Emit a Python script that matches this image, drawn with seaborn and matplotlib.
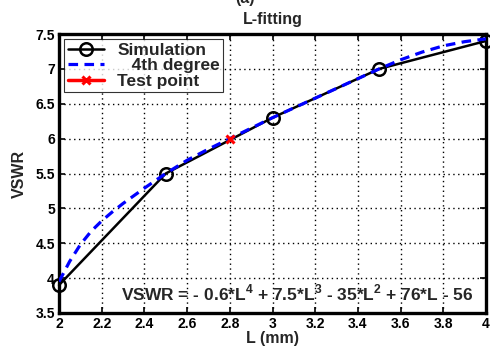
import matplotlib
matplotlib.use("Agg")
import matplotlib.pyplot as plt
import seaborn as sns
import numpy as np

# Data
sim_L = [2.0, 2.5, 3.0, 3.5, 4.0]
sim_vswr = [3.9, 5.5, 6.3, 7.0, 7.4]

fit_L = [2.0, 2.05, 2.1, 2.15, 2.2, 2.25, 2.3, 2.4, 2.5, 2.6, 2.7, 2.8, 2.9, 3.0,
         3.1, 3.2, 3.3, 3.4, 3.5, 3.6, 3.7, 3.8, 3.9, 4.0]
fit_vswr = [3.95, 4.24, 4.48, 4.67, 4.82, 4.95, 5.07, 5.29, 5.5, 5.69, 5.85, 6.0, 6.15, 6.3,
            6.44, 6.58, 6.72, 6.86, 7.0, 7.13, 7.24, 7.33, 7.39, 7.43]

test_L = [2.8]
test_vswr = [6.0]

x_ticks = [2, 2.2, 2.4, 2.6, 2.8, 3, 3.2, 3.4, 3.6, 3.8, 4]
x_ticklabels = ["2", "2.2", "2.4", "2.6", "2.8", "3", "3.2", "3.4", "3.6", "3.8", "4"]
y_ticks = [3.5, 4, 4.5, 5, 5.5, 6, 6.5, 7, 7.5]
y_ticklabels = ["3.5", "4", "4.5", "5", "5.5", "6", "6.5", "7", "7.5"]

sns.set_theme(style="white")
plt.rcParams['font.family'] = ['Liberation Sans', 'DejaVu Sans']
plt.rcParams['mathtext.fontset'] = 'custom'
plt.rcParams['mathtext.bf'] = 'Liberation Sans:bold'
plt.rcParams['mathtext.rm'] = 'Liberation Sans:bold'

fig = plt.figure(figsize=(4.9, 3.52), dpi=100)
ax = fig.add_axes([59/490, 1-313/352, (486-59)/490, (313-34)/352])

sns.lineplot(x=sim_L, y=sim_vswr, ax=ax, color='black', linewidth=1.8,
             marker='o', markersize=9, markerfacecolor='none',
             markeredgecolor='black', markeredgewidth=1.8,
             label='Simulation', zorder=3, clip_on=False)
sns.lineplot(x=fit_L, y=fit_vswr, ax=ax, color='blue', linewidth=2.3,
             linestyle=(0, (3, 2)), label='   4th degree', zorder=4)
sns.lineplot(x=test_L, y=test_vswr, ax=ax, color='red', linewidth=2.5,
             marker='x', markersize=6, markeredgewidth=2.2,
             markeredgecolor='red', markerfacecolor='red',
             label='Test point', zorder=5)

ax.set_xlim(2, 4)
ax.set_ylim(3.5, 7.5)
ax.set_xticks(x_ticks)
ax.set_xticklabels(x_ticklabels, fontweight='bold', fontsize=10)
ax.set_yticks(y_ticks)
ax.set_yticklabels(y_ticklabels, fontweight='bold', fontsize=10)
ax.tick_params(direction='in', length=4, width=1.2, top=True, right=True,
               bottom=True, left=True, pad=3, colors='black')
ax.grid(True, linestyle=(0, (1, 2.5)), color='black', linewidth=1.0)
for s in ax.spines.values():
    s.set_linewidth(2.4)
    s.set_color('black')

ax.set_xlabel('L (mm)', fontweight='bold', fontsize=11.5, labelpad=0)
ax.set_ylabel('VSWR', fontweight='bold', fontsize=11.5, labelpad=6)
ax.set_title('L-fitting', fontweight='bold', fontsize=11.5, pad=7)
fig.text(0.5, 1.0 + 2/352, '(a)', ha='center', va='center', fontweight='bold', fontsize=11.5)

ax.text((473-59)/427, (313-300)/279,
        r'VSWR = - 0.6*L$^{\mathbf{4}}$ + 7.5*L$^{\mathbf{3}}$ - 35*L$^{\mathbf{2}}$ + 76*L - 56',
        transform=ax.transAxes, ha='right', va='baseline', fontweight='bold', fontsize=12.5)

leg = ax.legend(loc='upper left', frameon=True, fancybox=False,
                edgecolor='black', borderpad=0.2, labelspacing=0.02,
                handlelength=2.1, handletextpad=0.75, borderaxespad=0.3,
                prop={'weight': 'bold', 'size': 12.5})
leg.get_frame().set_linewidth(0.8)

fig.savefig('out.png', dpi=100)
